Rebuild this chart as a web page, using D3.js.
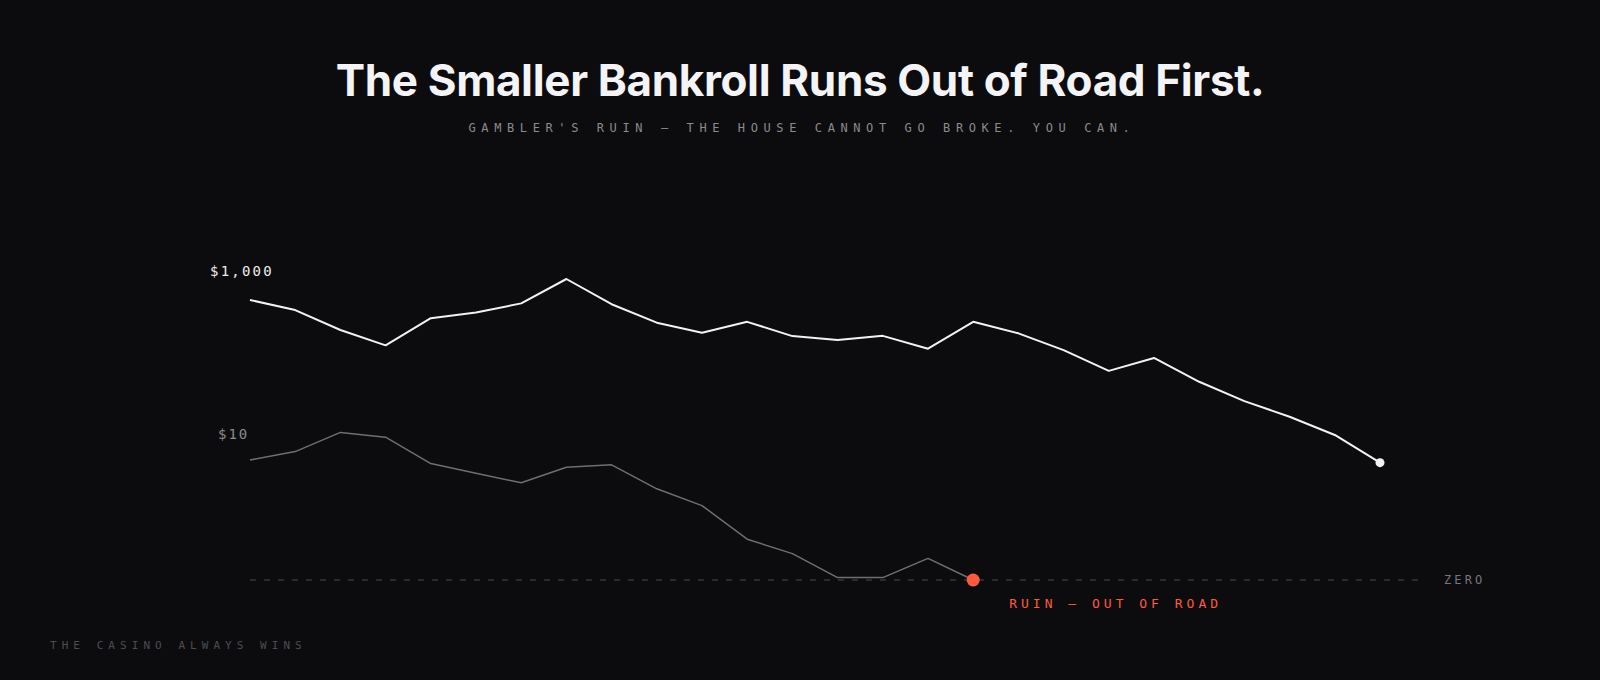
<!DOCTYPE html>
<html>
<head>
<meta charset="utf-8">
<script src="https://cdn.jsdelivr.net/npm/d3@7"></script>
<style>
  html, body { margin:0; padding:0; background:#0c0c0e; }
  svg { display:block; }
</style>
</head>
<body>
<div id="main"></div>
<script>
// bankroll after each round (dollars)
var bigBankroll = [1000, 964, 893, 838, 935, 955, 988, 1075, 985, 919, 883, 922, 871, 857, 872, 826, 922, 881, 821, 747, 793, 708, 639, 583, 518, 419];
var smallBankroll = [10, 10.7, 12.3, 11.9, 9.7, 8.9, 8.1, 9.4, 9.6, 7.6, 6.2, 3.4, 2.2, 0.2, 0.2, 1.8, 0];
var bigLabel = "$1,000";
var smallLabel = "$10";

var width = 1600, height = 680;
var bg = "#0c0c0e";
var red = "#ff5a3c";

var svg = d3.select("#main").append("svg")
    .attr("width", width)
    .attr("height", height)
    .style("background", bg);

var mono = "'DejaVu Sans Mono', 'Liberation Mono', monospace";

// title + subtitle
svg.append("text")
    .attr("x", 800).attr("y", 96)
    .attr("text-anchor", "middle")
    .style("font-family", "Inter, 'Noto Sans', sans-serif")
    .style("font-weight", 700)
    .style("font-size", "44px")
    .style("letter-spacing", "-0.35px")
    .style("fill", "#f4f4f6")
    .text("The Smaller Bankroll Runs Out of Road First.");

svg.append("text")
    .attr("x", 802).attr("y", 132)
    .attr("text-anchor", "middle")
    .style("font-family", mono)
    .style("font-size", "12px")
    .style("letter-spacing", "5.6px")
    .style("fill", "#8a8a8f")
    .text("GAMBLER'S RUIN — THE HOUSE CANNOT GO BROKE. YOU CAN.");

// scales: both lines share the zero baseline, each on its own dollar scale
var x = d3.scaleLinear().domain([0, bigBankroll.length - 1]).range([250, 1380]);
var yBig = d3.scaleLinear().domain([0, 1000]).range([580, 300]);
var ySmall = d3.scaleLinear().domain([0, 10]).range([580, 460]);

// zero line
svg.append("line")
    .attr("x1", x(0)).attr("x2", 1418)
    .attr("y1", yBig(0)).attr("y2", yBig(0))
    .style("stroke", "#4a4a4f")
    .style("stroke-width", 1.2)
    .style("stroke-dasharray", "6 8");

svg.append("text")
    .attr("x", 1444).attr("y", 584)
    .style("font-family", mono)
    .style("font-size", "12px")
    .style("letter-spacing", "3.1px")
    .style("fill", "#76767b")
    .text("ZERO");

var lineBig = d3.line()
    .x(function(d, i) { return x(i); })
    .y(function(d) { return yBig(d); });
var lineSmall = d3.line()
    .x(function(d, i) { return x(i); })
    .y(function(d) { return ySmall(d); });

svg.append("path")
    .datum(smallBankroll)
    .attr("d", lineSmall)
    .style("fill", "none")
    .style("stroke", "#6e6e73")
    .style("stroke-width", 1.5)
    .style("stroke-linejoin", "round");

svg.append("path")
    .datum(bigBankroll)
    .attr("d", lineBig)
    .style("fill", "none")
    .style("stroke", "#f2f2f4")
    .style("stroke-width", 2)
    .style("stroke-linejoin", "round");

// end markers
var lastBig = bigBankroll.length - 1;
svg.append("circle")
    .attr("cx", x(lastBig)).attr("cy", yBig(bigBankroll[lastBig]))
    .attr("r", 4.5)
    .style("fill", "#f2f2f4");

var lastSmall = smallBankroll.length - 1;
svg.append("circle")
    .attr("cx", x(lastSmall)).attr("cy", ySmall(smallBankroll[lastSmall]))
    .attr("r", 6.5)
    .style("fill", red);

svg.append("text")
    .attr("x", x(lastSmall) + 36).attr("y", 607.5)
    .style("font-family", mono)
    .style("font-size", "13px")
    .style("letter-spacing", "4px")
    .style("fill", red)
    .text("RUIN — OUT OF ROAD");

// starting bankroll labels
svg.append("text")
    .attr("x", x(0) - 40).attr("y", yBig(bigBankroll[0]) - 24)
    .style("font-family", mono)
    .style("font-size", "14px")
    .style("letter-spacing", "2.2px")
    .style("fill", "#ececef")
    .text(bigLabel);

svg.append("text")
    .attr("x", x(0) - 32).attr("y", ySmall(smallBankroll[0]) - 21)
    .style("font-family", mono)
    .style("font-size", "14px")
    .style("letter-spacing", "2px")
    .style("fill", "#8a8a8f")
    .text(smallLabel);

// footer
svg.append("text")
    .attr("x", 50).attr("y", 649)
    .style("font-family", mono)
    .style("font-size", "11px")
    .style("letter-spacing", "5.05px")
    .style("fill", "#4d4d52")
    .text("THE CASINO ALWAYS WINS");
</script>
</body>
</html>
